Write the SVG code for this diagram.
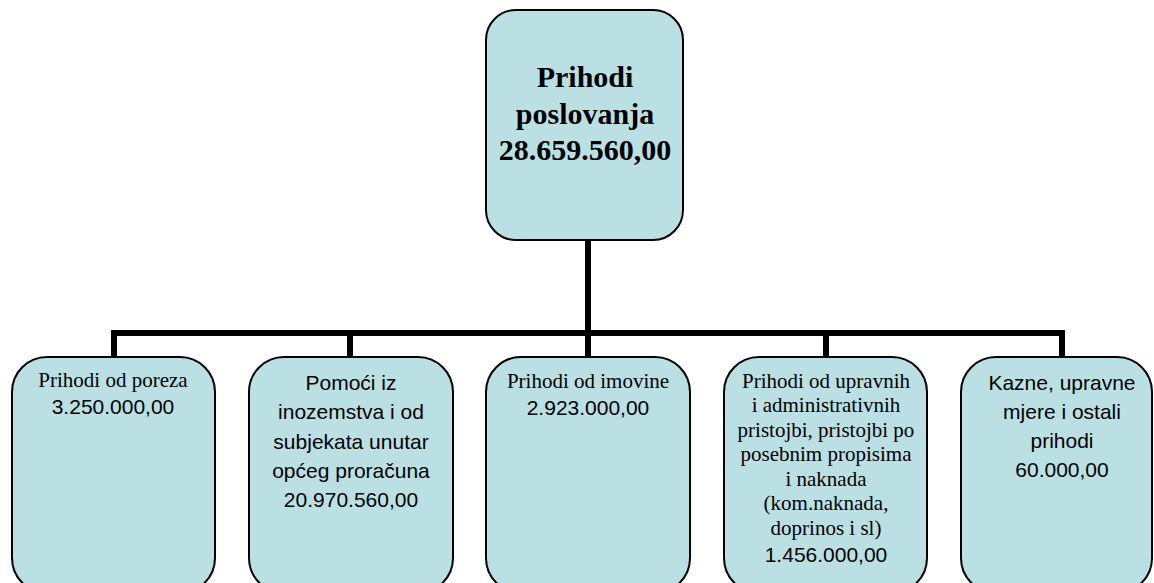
<svg xmlns="http://www.w3.org/2000/svg" width="1154" height="583" viewBox="0 0 1154 583">
<style>
.box{fill:#bbe0e3;stroke:#000;stroke-width:2}
.conn{fill:none;stroke:#000;stroke-width:6;stroke-linejoin:miter;stroke-linecap:butt}
.title{font-family:"Liberation Serif","Times New Roman",serif;font-weight:bold;font-size:30px;text-anchor:middle;fill:#000}
.ser{font-family:"Liberation Serif","Times New Roman",serif;font-size:21px;text-anchor:middle;fill:#000}
.san{font-family:"Liberation Sans",Arial,sans-serif;font-size:21px;text-anchor:middle;fill:#000}
</style>
<rect width="1154" height="583" fill="#fff"/>
<g id="connectors">
<path class="conn" d="M588,240 V333"/>
<path class="conn" d="M114,357 V333 H1062 V357"/>
<path class="conn" d="M350,333 V357"/>
<path class="conn" d="M588,333 V357"/>
<path class="conn" d="M826,333 V357"/>
</g>
<g id="root">
<rect class="box" x="486" y="10" width="197" height="230" rx="30"/>
<text class="title" x="585" y="87">Prihodi</text>
<text class="title" x="585" y="124">poslovanja</text>
<text class="title" x="585" y="160">28.659.560,00</text>
</g>
<g id="n1">
<rect class="box" x="12" y="357" width="203" height="236" rx="35"/>
<text class="ser" x="113" y="387">Prihodi od poreza</text>
<text class="san" x="113" y="414">3.250.000,00</text>
</g>
<g id="n2">
<rect class="box" x="249" y="357" width="204" height="236" rx="35"/>
<text class="san" x="351" y="390">Pomoći iz</text>
<text class="san" x="351" y="419">inozemstva i od</text>
<text class="san" x="351" y="449">subjekata unutar</text>
<text class="san" x="351" y="478">općeg proračuna</text>
<text class="san" x="351" y="507">20.970.560,00</text>
</g>
<g id="n3">
<rect class="box" x="486" y="357" width="204" height="236" rx="35"/>
<text class="ser" x="588" y="388">Prihodi od imovine</text>
<text class="san" x="588" y="415">2.923.000,00</text>
</g>
<g id="n4">
<rect class="box" x="724" y="357" width="203" height="236" rx="35"/>
<text class="ser" x="826" y="388">Prihodi od upravnih</text>
<text class="ser" x="826" y="412">i administrativnih</text>
<text class="ser" x="826" y="437">pristojbi, pristojbi po</text>
<text class="ser" x="826" y="461">posebnim propisima</text>
<text class="ser" x="826" y="486">i naknada</text>
<text class="ser" x="826" y="510">(kom.naknada,</text>
<text class="ser" x="826" y="535">doprinos i sl)</text>
<text class="san" x="826" y="562">1.456.000,00</text>
</g>
<g id="n5">
<rect class="box" x="961" y="357" width="191" height="236" rx="35"/>
<text class="san" x="1062" y="390">Kazne, upravne</text>
<text class="san" x="1062" y="419">mjere i ostali</text>
<text class="san" x="1062" y="448">prihodi</text>
<text class="san" x="1062" y="477">60.000,00</text>
</g>
</svg>
